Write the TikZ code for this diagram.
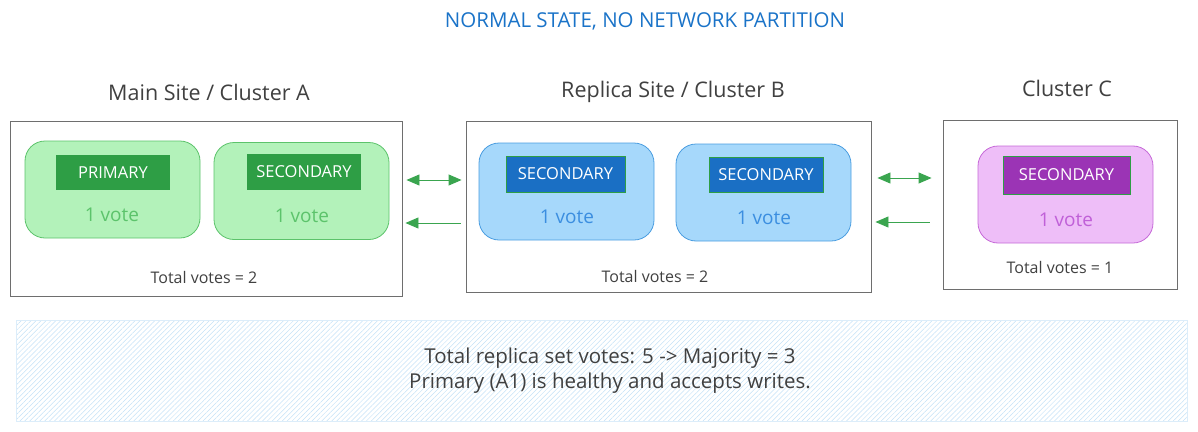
\documentclass[tikz,border=0pt]{standalone}
\usepackage{fontspec}
\setmainfont{Open Sans}
\usepackage{xcolor}
\usepackage{tikz}
\usetikzlibrary{arrows.meta,patterns.meta}

\definecolor{titleblue}{HTML}{1A73C8}
\definecolor{textgray}{HTML}{404040}
\definecolor{framegray}{HTML}{6E6E6E}
\definecolor{greenfill}{HTML}{B3F2BA}
\definecolor{greenline}{HTML}{5CC36B}
\definecolor{greendark}{HTML}{2E9E45}
\definecolor{greenvote}{HTML}{5CC36B}
\definecolor{bluefill}{HTML}{A6D8FB}
\definecolor{blueline}{HTML}{4A9DE0}
\definecolor{bluedark}{HTML}{1A6FC4}
\definecolor{bluevote}{HTML}{3B8EE0}
\definecolor{violetfill}{HTML}{EEBEF8}
\definecolor{violetline}{HTML}{C66AD8}
\definecolor{violetdark}{HTML}{9B34B5}
\definecolor{violetvote}{HTML}{C060D8}
\definecolor{arrowgreen}{HTML}{3AA54F}
\definecolor{hatchblue}{HTML}{C4E1F6}

\begin{document}
\begin{tikzpicture}[x=1pt, y=-1pt,
    cluster/.style={draw=framegray, line width=0.9pt, inner sep=0pt},
    member/.style={draw, rounded corners=20pt, line width=0.8pt, inner sep=0pt,
      minimum width=175pt, minimum height=97pt},
    role/.style={inner sep=0pt, text=white, font=\fontsize{16.5}{19}\selectfont},
    vote/.style={font=\fontsize{19}{22}\selectfont},
    total/.style={text=textgray, font=\fontsize{16}{19}\selectfont},
    heading/.style={text=textgray, font=\fontsize{21.5}{25}\selectfont},
    link/.style={draw=arrowgreen, line width=0.9pt, -{Triangle[length=13pt,width=11pt]}},
    twoway/.style={link, {Triangle[length=13pt,width=11pt]}-{Triangle[length=13pt,width=11pt]}}]

    \useasboundingbox (0,0) rectangle (1198,431);

    \node[text=titleblue, font=\fontsize{20.5}{24}\selectfont] (title) at (645,21) {NORMAL STATE, NO NETWORK PARTITION};

    % main site
    \node[heading] (headA) at (209,92) {Main Site / Cluster A};
    \node[cluster, minimum width=392pt, minimum height=175pt] (boxA) at (206,208.5) {};
    \node[member, draw=greenline, fill=greenfill] (a1) at (112.5,189.5) {};
    \node[member, draw=greenline, fill=greenfill] (a2) at (301.5,191) {};
    \node[role, fill=greendark, minimum width=114pt, minimum height=35pt] (a1role) at (113,172.5) {PRIMARY};
    \node[role, fill=greendark, minimum width=114pt, minimum height=36pt] (a2role) at (304,172) {SECONDARY};
    \node[vote, text=greenvote] (a1vote) at (112,215) {1 vote};
    \node[vote, text=greenvote] (a2vote) at (302,216) {1 vote};
    \node[total] (totA) at (204,277) {Total votes = 2};

    % replica site
    \node[heading] (headB) at (673,92) {Replica Site / Cluster B};
    \node[cluster, minimum width=405pt, minimum height=171pt] (boxB) at (668.5,206.5) {};
    \node[member, draw=blueline, fill=bluefill] (b1) at (566.5,191.5) {};
    \node[member, draw=blueline, fill=bluefill] (b2) at (763.5,192.5) {};
    \node[role, fill=bluedark, draw=greendark, minimum width=119pt, minimum height=36pt] (b1role) at (565.5,174) {SECONDARY};
    \node[role, fill=bluedark, draw=greendark, minimum width=114pt, minimum height=35pt] (b2role) at (766,174.5) {SECONDARY};
    \node[vote, text=bluevote] (b1vote) at (567,217) {1 vote};
    \node[vote, text=bluevote] (b2vote) at (764,218) {1 vote};
    \node[total] (totB) at (655,276) {Total votes = 2};

    % cluster c
    \node[heading] (headC) at (1067,88) {Cluster C};
    \node[cluster, minimum width=234pt, minimum height=169pt] (boxC) at (1060,204.5) {};
    \node[member, draw=violetline, fill=violetfill] (c1) at (1065.5,194.5) {};
    \node[role, fill=violetdark, draw=greendark, minimum width=127pt, minimum height=38pt] (c1role) at (1066.5,175) {SECONDARY};
    \node[vote, text=violetvote] (c1vote) at (1066,220) {1 vote};
    \node[total] (totC) at (1060,267) {Total votes = 1};

    % replication links
    \draw[twoway] ([xshift=4pt]boxA.east |- 0,180) -- ([xshift=-4pt]boxB.west |- 0,180);
    \draw[link] ([xshift=-5pt]boxB.west |- 0,223) -- ([xshift=3pt]boxA.east |- 0,223);
    \draw[twoway] ([xshift=6pt]boxB.east |- 0,178) -- ([xshift=-11pt]boxC.west |- 0,178);
    \draw[link] ([xshift=-13pt]boxC.west |- 0,222) -- ([xshift=4pt]boxB.east |- 0,222);

    % summary
    \node[draw=hatchblue!60, line width=0.6pt, pattern={Lines[angle=45,distance=3.5pt,line width=0.5pt]}, pattern color=hatchblue,
      minimum width=1171pt, minimum height=101pt] (summary) at (601.5,370.5) {};
    \node[text=textgray, align=center, font=\fontsize{20.5}{25}\selectfont] (summarytext) at (610,370.5)
      {Total replica set votes: 5 -> Majority = 3\\Primary (A1) is healthy and accepts writes.};
\end{tikzpicture}
\end{document}
